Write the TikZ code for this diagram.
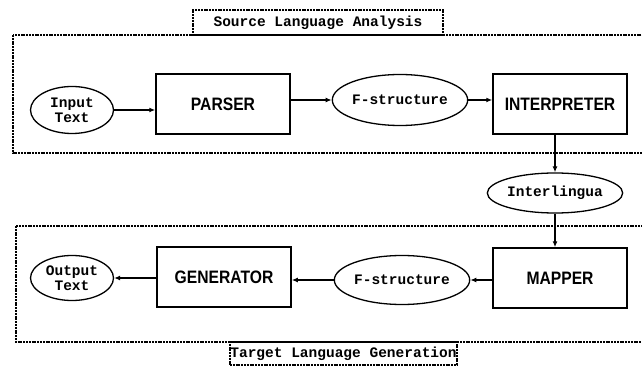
\documentclass[tikz,border=0pt]{standalone}
\usepackage{fontspec}
\setmonofont{Liberation Mono}
\newfontfamily\boxfont{Liberation Sans}[FakeStretch=0.87]
\usetikzlibrary{shapes.geometric,arrows.meta}
\begin{document}
\begin{tikzpicture}[x=1pt,y=1pt,
    stage/.style={draw, line width=1.5pt, minimum width=134pt, minimum height=60pt,
      font=\boxfont\bfseries\fontsize{18}{20}\selectfont},
    data/.style={draw, ellipse, line width=1.3pt, inner sep=0pt, align=center,
      font=\ttfamily\bfseries\fontsize{14.5}{15}\selectfont},
    edge/.style={dash pattern=on 2pt off 0.8pt, line width=1.1pt},
    tag/.style={draw, edge, inner sep=0pt,
      font=\ttfamily\bfseries\fontsize{14.5}{15}\selectfont},
    flow/.style={line width=1.4pt, -{Latex[length=6pt,width=5pt]}}]
	\useasboundingbox (0,0) rectangle (642,367);

	% the two stages
	\draw[edge] (13,332) rectangle (646,214);
	\draw[edge] (16,141) rectangle (646,25);
	\node[tag, minimum width=250pt, minimum height=25pt] (srctag) at (318,344.5) {Source Language Analysis};
	\node[tag, minimum width=227pt, minimum height=23pt] (tgttag) at (343.5,13.5) {Target Language Generation};

	\node[data, minimum width=83pt, minimum height=47pt] (intext) at (72,257) {Input\\Text};
	\node[stage] (parser) at (223,263) {PARSER};
	\node[data, minimum width=105pt, minimum height=51pt] (fsa) at (400,267) {F-structure};
	\node[stage] (interp) at (560,263) {INTERPRETER};
	\node[data, minimum width=116pt, minimum height=40pt] (inter) at (555,174) {Interlingua};
	\node[stage] (mapper) at (560,89) {MAPPER};
	\node[data, minimum width=107pt, minimum height=49pt] (fsb) at (402,87) {F-structure};
	\node[stage] (gen) at (224,90) {GENERATOR};
	\node[data, minimum width=83pt, minimum height=45pt] (outtext) at (72,89) {Output\\Text};

	\draw[flow] (intext.east) -- (intext.east -| parser.west);
	\draw[flow] (fsa.west -| parser.east) -- (fsa.west);
	\draw[flow] (fsa.east) -- (fsa.east -| interp.west);
	\draw[flow] (inter.north |- interp.south) -- (inter.north);
	\draw[flow] (inter.south) -- (inter.south |- mapper.north);
	\draw[flow] (fsb.east -| mapper.west) -- (fsb.east);
	\draw[flow] (fsb.west) -- (fsb.west -| gen.east);
	\draw[flow] (outtext.east -| gen.west) -- (outtext.east);
\end{tikzpicture}
\end{document}
